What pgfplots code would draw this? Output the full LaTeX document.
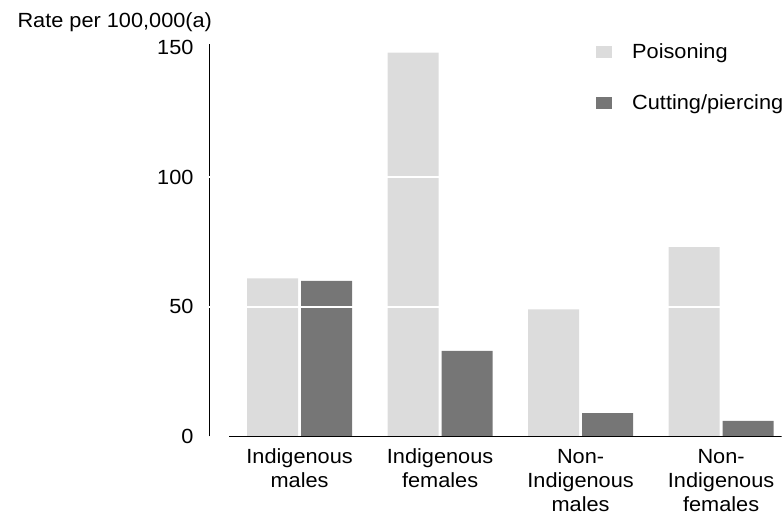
\documentclass[border=0pt]{standalone}
\usepackage{fontspec}
\setmainfont{Liberation Sans}[FakeStretch=1.06]
\usepackage{pgfplots}
\pgfplotsset{compat=1.18}
\definecolor{poison}{HTML}{DCDCDC}
\definecolor{cut}{HTML}{767676}
\newcommand{\fs}{\fontsize{20.5}{24}\selectfont}
\begin{document}
\begin{tikzpicture}
\path[use as bounding box] (0,0) rectangle (782pt,518pt);
\begin{axis}[
  at={(209pt,81.5pt)}, anchor=south west,
  scale only axis, width=572.5pt, height=392.9pt,
  xmin=-0.645, xmax=3.43, ymin=0, ymax=151.5,
  ybar=3pt, bar width=51pt,
  axis lines=left, axis line style={line width=1pt, -},
  x axis line style={draw=none},
  xtick={0,1,2,3},
  xticklabels={{Indigenous\\males},{Indigenous\\females},{Non-\\Indigenous\\males},{Non-\\Indigenous\\females}},
  ytick={0,50,100,150},
  major tick length=0pt,
  tick label style={font=\fs},
  xticklabel style={align=center, anchor=north, yshift=-9pt},
  yticklabel style={xshift=-12pt},
  /pgf/number format/assume math mode=true,
  extra y ticks={50,100}, extra y tick labels={},
  extra y tick style={ymajorgrids=true, major grid style={white, line width=1.5pt}},
  axis on top,
  legend style={at={(0.676,0.997)}, anchor=north west, draw=none, fill=none, inner sep=0pt,
    row sep=33pt, font=\fs, nodes={inner sep=0pt, text height=14pt, text depth=4pt},
    /tikz/every odd column/.append style={column sep=20pt}},
  legend cell align=left,
  legend image code/.code={\fill[#1] (0pt,-4pt) rectangle (16pt,8pt);},
]
\addplot[fill=poison, draw=none] coordinates {(0,61) (1,148) (2,49) (3,73)};
\addplot[fill=cut, draw=none] coordinates {(0,60) (1,33) (2,9) (3,6)};
\legend{Poisoning, Cutting/piercing}
\draw[line width=1pt] (axis cs:-0.5,0) -- (axis cs:3.43,0);
\end{axis}
\node[anchor=base west, font=\fs] at (14pt,490pt) {Rate per 100,000(a)};
\end{tikzpicture}
\end{document}
